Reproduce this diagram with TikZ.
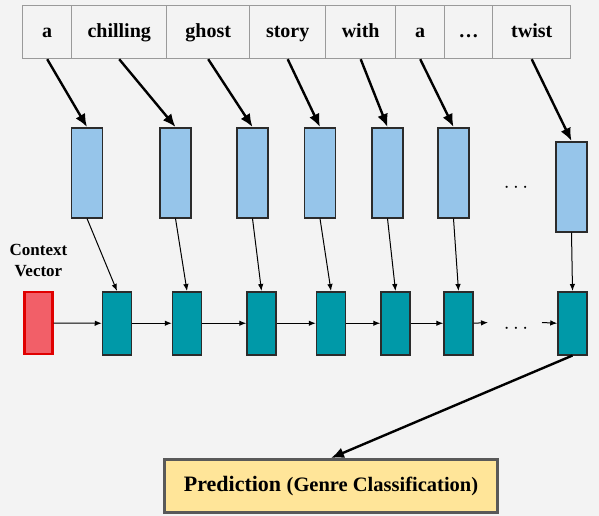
\documentclass[tikz,border=0pt]{standalone}
\usepackage{fontspec}
\setmainfont{Liberation Serif}
\usepackage{tikz}
\usetikzlibrary{matrix,arrows,arrows.meta,calc,positioning}
\usepackage{xcolor}
\newcommand{\myunit}{1pt}
\definecolor{bggray}{HTML}{F3F3F3}
\definecolor{cellgray}{HTML}{9A9A9A}
\definecolor{boxgray}{HTML}{2B2B2B}
\definecolor{embblue}{HTML}{96C5EA}
\definecolor{rnnteal}{HTML}{0099A8}
\definecolor{ctxfill}{HTML}{F25F68}
\definecolor{ctxred}{HTML}{E00000}
\definecolor{predfill}{HTML}{FFE599}
\definecolor{predgray}{HTML}{595959}
\tikzset{
    wordsty/.style={draw=cellgray,line width=1pt,fill=bggray,rectangle,inner sep=0pt,minimum height=53*\myunit,text height=14pt,text depth=4pt,font=\fontsize{20}{24}\selectfont\bfseries},
    embsty/.style={draw=boxgray,line width=1.5pt,fill=embblue,rectangle,inner sep=0pt,minimum width=31*\myunit,minimum height=90*\myunit,anchor=north},
    rnnsty/.style={draw=boxgray,line width=1.5pt,fill=rnnteal,rectangle,inner sep=0pt,minimum width=29*\myunit,minimum height=63*\myunit,anchor=north},
    ctxsty/.style={draw=ctxred,line width=2.2pt,fill=ctxfill,rectangle,inner sep=0pt,minimum width=28*\myunit,minimum height=62*\myunit,anchor=north},
    predsty/.style={draw=predgray,line width=3pt,fill=predfill,rectangle,inner sep=0pt,minimum width=333*\myunit,minimum height=53*\myunit,font=\bfseries},
    labelsty/.style={align=center,font=\fontsize{17}{21}\selectfont\bfseries},
    dotsty/.style={inner sep=0pt,font=\fontsize{20}{24}\selectfont},
    thicksty/.style={-{Latex[length=13pt,width=11pt]},line width=2.4pt},
    thinsty/.style={-{Latex[length=7pt,width=5.5pt]},line width=1pt},
}

\begin{document}
\begin{tikzpicture}[>=latex]

\fill [bggray] (0,0) rectangle (599*\myunit, -516*\myunit);
\useasboundingbox (0,0) rectangle (599*\myunit, -516*\myunit);

\matrix (words) [matrix of nodes,
    nodes = {wordsty},
    inner sep = 0pt,
    column sep = -1pt,
    ampersand replacement=\&,
    anchor=north west] at (22*\myunit, -5*\myunit)
{
|[minimum width=49*\myunit]| a \& |[minimum width=95*\myunit]| chilling \& |[minimum width=83*\myunit]| ghost \& |[minimum width=76*\myunit]| story \& |[minimum width=70*\myunit]| with \& |[minimum width=49*\myunit]| a \& |[minimum width=48*\myunit]| … \& |[minimum width=78*\myunit]| twist \\
};

% embeddings
\node (emb1) [embsty] at (87*\myunit, -127*\myunit) {};
\node (emb2) [embsty] at (175.5*\myunit, -127*\myunit) {};
\node (emb3) [embsty] at (252.5*\myunit, -127*\myunit) {};
\node (emb4) [embsty] at (320*\myunit, -127*\myunit) {};
\node (emb5) [embsty] at (387.5*\myunit, -127*\myunit) {};
\node (emb6) [embsty] at (453.5*\myunit, -127*\myunit) {};
\node (emb7) [embsty] at (571.5*\myunit, -141*\myunit) {};
\node (embdots) [dotsty] at (516*\myunit, -188*\myunit) {$\cdots$};

\draw [thicksty] (words-1-1.south) -- (emb1.north);
\draw [thicksty] (words-1-2.south) -- (emb2.north);
\draw [thicksty] (words-1-3.south) -- (emb3.north);
\draw [thicksty] (words-1-4.south) -- (emb4.north);
\draw [thicksty] (words-1-5.south) -- (emb5.north);
\draw [thicksty] (words-1-6.south) -- (emb6.north);
\draw [thicksty] (words-1-8.south) -- (emb7.north);

% recurrent cells
\node (ctxl) [labelsty] at (38.5*\myunit, -260*\myunit) {Context\\Vector};
\node (ctx) [ctxsty] at (38.5*\myunit, -291*\myunit) {};
\node (rnn1) [rnnsty] at (117*\myunit, -291*\myunit) {};
\node (rnn2) [rnnsty] at (187*\myunit, -291*\myunit) {};
\node (rnn3) [rnnsty] at (261.5*\myunit, -291*\myunit) {};
\node (rnn4) [rnnsty] at (331*\myunit, -291*\myunit) {};
\node (rnn5) [rnnsty] at (395.5*\myunit, -291*\myunit) {};
\node (rnn6) [rnnsty] at (458.5*\myunit, -291*\myunit) {};
\node (rnn7) [rnnsty] at (572.5*\myunit, -291*\myunit) {};
\node (rnndots) [dotsty] at (516*\myunit, -329*\myunit) {$\cdots$};
\coordinate (rnnout) at (488*\myunit, -322.5*\myunit);
\coordinate (rnnin) at (542*\myunit, -322.5*\myunit);

\draw [thinsty] (emb1.south) -- (rnn1.north);
\draw [thinsty] (emb2.south) -- (rnn2.north);
\draw [thinsty] (emb3.south) -- (rnn3.north);
\draw [thinsty] (emb4.south) -- (rnn4.north);
\draw [thinsty] (emb5.south) -- (rnn5.north);
\draw [thinsty] (emb6.south) -- (rnn6.north);
\draw [thinsty] (emb7.south) -- (rnn7.north);

\draw [thinsty] (ctx.east) -- (rnn1.west);
\draw [thinsty] (rnn1.east) -- (rnn2.west);
\draw [thinsty] (rnn2.east) -- (rnn3.west);
\draw [thinsty] (rnn3.east) -- (rnn4.west);
\draw [thinsty] (rnn4.east) -- (rnn5.west);
\draw [thinsty] (rnn5.east) -- (rnn6.west);
\draw [thinsty] (rnn6.east) -- (rnnout);
\draw [thinsty] (rnnin) -- (rnn7.west);

% output
\node (pred) [predsty] at (331*\myunit, -486*\myunit) {\fontsize{22}{26}\selectfont Prediction \fontsize{20.5}{24}\selectfont(Genre Classification)};
\draw [thicksty] (rnn7.south) -- (pred.north);

\end{tikzpicture}
\end{document}
